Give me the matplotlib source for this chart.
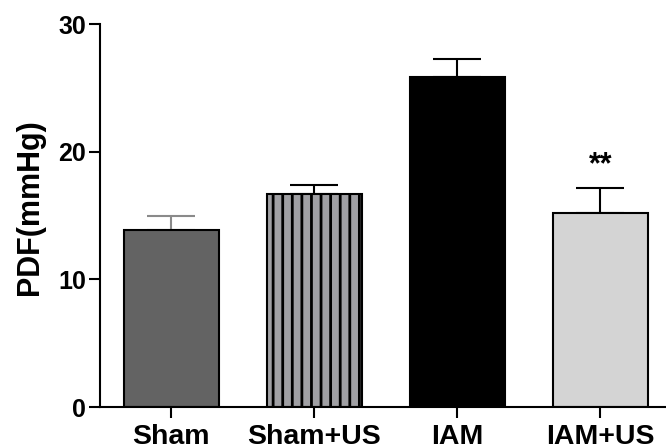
import numpy as np
import matplotlib
matplotlib.use('Agg')
import matplotlib.pyplot as plt

# valores
grupos = ['Sham', 'Sham+US', 'IAM', 'IAM+US']
medias = [13.86, 16.68, 25.84, 15.19]
erros = [1.1, 0.7, 1.4, 1.95]
cores = ['#636363', '#a0a0a4', '#000000', '#d4d4d4']
cores_erro = ['#8a8a8a', 'black', 'black', 'black']
hachuras = ['', '||', '', '']
y_ticks = [0, 10, 20, 30]

# dpi 115 para o espacamento das hachuras; k corrige os tamanhos em pontos
DPI = 115
k = 100.0 / DPI

plt.rcParams['font.family'] = ['Liberation Sans', 'DejaVu Sans']
plt.rcParams['font.weight'] = 'bold'
plt.rcParams['hatch.linewidth'] = 2.0 * k

fig = plt.figure(figsize=(666 / DPI, 446 / DPI), dpi=DPI)
ax = fig.add_axes([0.150, 0.0874, 0.85, 0.8587])

x = np.arange(len(grupos))
for i in range(len(grupos)):
    ax.bar(x[i], medias[i], width=0.665, color=cores[i], edgecolor='black',
           linewidth=1.5 * k, hatch=hachuras[i], zorder=2)
    ax.errorbar(x[i], medias[i], yerr=[[0], [erros[i]]], fmt='none',
                ecolor=cores_erro[i], elinewidth=1.5 * k, capsize=17 * k,
                capthick=1.5 * k, zorder=1)

ax.text(x[3], 18.9, '**', ha='center', va='center', fontsize=22 * k, fontweight='bold')

ax.set_xlim(-0.5, 3.458)
ax.set_ylim(0, 30)
ax.set_yticks(y_ticks)
ax.set_xticks(x)
ax.set_xticklabels(grupos)
ax.tick_params(axis='both', width=1.5 * k, length=8 * k)
ax.tick_params(axis='x', pad=4 * k, labelsize=20.5 * k)
ax.tick_params(axis='y', pad=2 * k, labelsize=18 * k)
ax.spines['top'].set_visible(False)
ax.spines['right'].set_visible(False)
ax.spines['left'].set_linewidth(1.5 * k)
ax.spines['bottom'].set_linewidth(1.5 * k)
ax.set_ylabel('PDF(mmHg)', fontsize=22 * k, fontweight='bold')
ax.yaxis.set_label_coords(-0.097, 0.521)

fig.savefig('out.png', dpi=DPI)
